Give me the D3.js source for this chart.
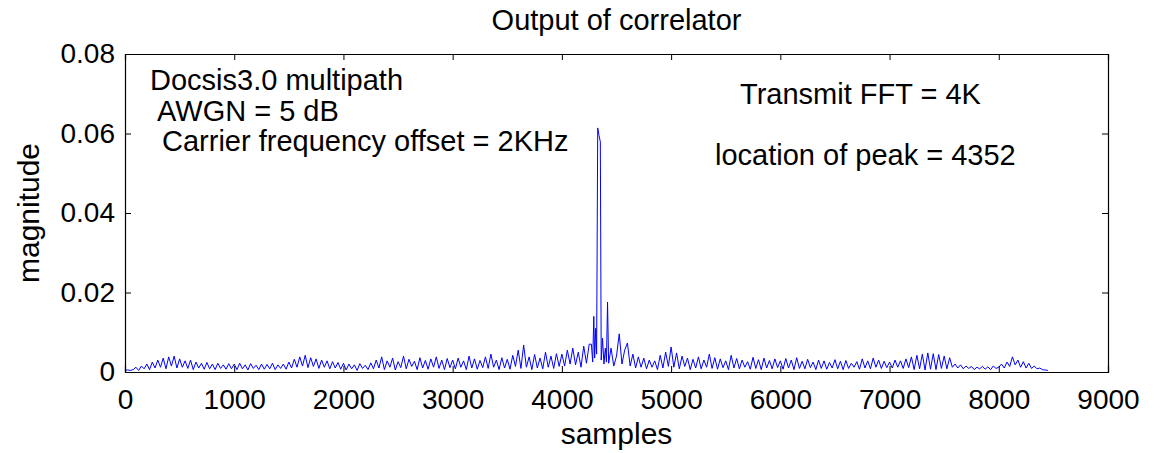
<!DOCTYPE html>
<html>
<head>
<meta charset="utf-8">
<script src="https://cdn.jsdelivr.net/npm/d3@7"></script>
<style>
  body { margin: 0; background: #fff; }
  text { font-family: "Liberation Sans", Arial, sans-serif; fill: #000; }
</style>
</head>
<body>
<div id="chart"></div>
<script>
var width = 1163,
    height = 453;

// correlator output, one value every 25 samples, in units of 1e-4
var sampleStep = 25;
var magnitude = [
  5,5,4,6,12,4,15,8,20,6,25,10,30,12,35,8,38,15,40,10,33,12,28,9,30,6,25,10,22,7,24,8,20,6,22,9,18,7,21,8,
  20,6,22,8,18,5,21,9,17,6,20,7,19,8,22,6,18,9,20,7,25,10,32,12,38,15,42,11,36,14,33,9,30,12,28,8,26,10,24,7,
  22,5,20,8,18,4,21,9,17,6,23,8,30,10,38,6,28,12,35,5,26,11,40,8,32,14,27,6,36,10,29,7,33,12,38,9,30,6,34,11,
  30,8,35,12,28,6,40,10,33,7,29,11,38,9,45,12,30,6,36,10,32,7,42,14,55,9,68,12,38,6,44,10,35,8,50,12,40,9,46,14,
  45,15,55,20,60,18,50,12,65,22,70,30,140,40,614,579,176,25,60,15,40,96,20,55,73,15,45,10,38,12,35,8,30,12,28,6,42,10,50,14,
  63,12,48,8,40,14,35,6,32,10,38,8,30,12,45,9,36,7,33,11,28,6,42,10,34,8,30,12,26,7,37,9,31,6,35,10,29,8,33,11,
  28,7,34,10,30,6,36,9,27,8,32,11,25,6,30,9,28,7,24,10,31,8,27,6,29,9,22,12,26,7,33,10,28,8,35,12,30,9,27,11,
  25,10,30,12,28,9,33,11,38,6,42,8,45,5,48,7,46,6,44,9,40,8,36,12,20,10,18,8,15,9,14,6,12,8,14,7,13,6,15,9,
  12,20,10,25,14,38,18,30,12,26,10,22,9,15,8,10,6,5,4
];
// finer reading around the peak (sample, value in 1e-4), replaces 4275..4425
var peakSamples = [4270, 4282, 4292, 4300, 4310, 4318, 4328, 4340, 4352, 4360, 4372, 4385, 4398, 4408, 4418, 4428];
var peakValues  = [  70,   25,  140,   35,  110,   45,  614,  595,  579,   30,   85,   20,   60,   25,  176,   22];
var unit = 1e-4;

var xTicks = [0, 1000, 2000, 3000, 4000, 5000, 6000, 7000, 8000, 9000];
var yTicks = [0, 0.02, 0.04, 0.06, 0.08];

var notes = [
  {text: "Docsis3.0 multipath", x: 150, y: 90},
  {text: "AWGN = 5 dB", x: 157, y: 121},
  {text: "Carrier frequency offset = 2KHz", x: 162, y: 151},
  {text: "Transmit FFT = 4K", x: 740, y: 104},
  {text: "location of peak = 4352", x: 715, y: 165}
];

var margin = {top: 54, right: 55, bottom: 81, left: 125};
var w = width - margin.left - margin.right,
    h = height - margin.top - margin.bottom;

// build the point table: coarse samples outside the peak window, fine ones inside
var points = [];
magnitude.forEach(function(v, i) {
  var s = i * sampleStep;
  if (s < peakSamples[0] || s > peakSamples[peakSamples.length - 1]) points.push({s: s, v: v});
});
peakSamples.forEach(function(s, i) { points.push({s: s, v: peakValues[i]}); });
points.sort(function(a, b) { return a.s - b.s; });

var svg = d3.select("#chart")
    .append("svg")
    .attr("width", width)
    .attr("height", height);

var g = svg.append("g")
    .attr("transform", "translate(" + margin.left + "," + margin.top + ")");

var x = d3.scaleLinear().domain([0, 9000]).range([0, w]);
var y = d3.scaleLinear().domain([0, 0.08]).range([h, 0]);

var line = d3.line()
    .x(function(d) { return x(d.s); })
    .y(function(d) { return y(d.v * unit); });

g.append("path")
    .datum(points)
    .attr("d", line)
    .attr("fill", "none")
    .attr("stroke", "#0000ff")
    .attr("stroke-width", 1);

// axes, MATLAB style: inward ticks on all four sides
var tickLen = 6;
var fmtY = function(d) { return d === 0 ? "0" : d3.format(".2f")(d); };

g.append("g")
    .attr("transform", "translate(0," + h + ")")
    .call(d3.axisBottom(x).tickValues(xTicks).tickSize(-tickLen).tickPadding(17).tickFormat(d3.format("d")));
g.append("g")
    .call(d3.axisLeft(y).tickValues(yTicks).tickSize(-tickLen).tickPadding(10).tickFormat(fmtY));
g.append("g")
    .call(d3.axisTop(x).tickValues(xTicks).tickSize(-tickLen).tickFormat(""));
g.append("g")
    .attr("transform", "translate(" + w + ",0)")
    .call(d3.axisRight(y).tickValues(yTicks).tickSize(-tickLen).tickFormat(""));

g.selectAll(".domain").attr("stroke", "#000").attr("stroke-width", 1.2);
g.selectAll(".tick line").attr("stroke", "#000");
g.selectAll(".tick text")
    .style("font-family", "'Liberation Sans', Arial, sans-serif")
    .style("font-size", "28px")
    .attr("fill", "#000");

svg.append("text")
    .attr("x", margin.left + w / 2)
    .attr("y", 30)
    .attr("text-anchor", "middle")
    .style("font-size", "29px")
    .text("Output of correlator");

svg.append("text")
    .attr("x", margin.left + w / 2)
    .attr("y", 444)
    .attr("text-anchor", "middle")
    .style("font-size", "30px")
    .text("samples");

svg.append("text")
    .attr("transform", "translate(39," + (margin.top + h / 2) + ") rotate(-90)")
    .attr("text-anchor", "middle")
    .style("font-size", "30px")
    .text("magnitude");

g.selectAll(".note")
    .data(notes)
    .enter().append("text")
    .attr("class", "note")
    .attr("x", function(d) { return d.x - margin.left; })
    .attr("y", function(d) { return d.y - margin.top; })
    .style("font-size", "29px")
    .text(function(d) { return d.text; });
</script>
</body>
</html>
